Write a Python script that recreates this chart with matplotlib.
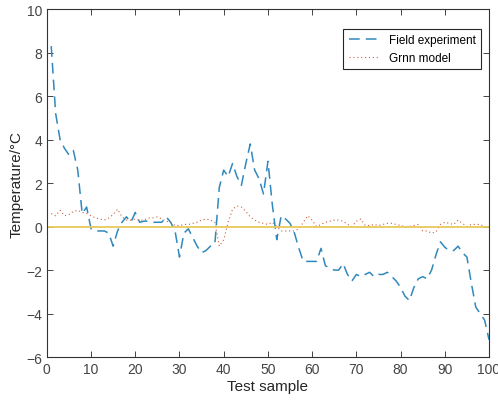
import numpy as np
import matplotlib
matplotlib.use("Agg")
import matplotlib.pyplot as plt

plt.rcParams['font.family'] = ['Liberation Sans', 'DejaVu Sans']

sample = list(range(1, 101))

field = [8.3, 5.2, 4.0, 3.6, 3.3, 3.5, 2.6, 0.6, 0.9, -0.1,
         -0.2, -0.2, -0.2, -0.3, -0.9, -0.2, 0.2, 0.45, 0.2, 0.65,
         0.2, 0.25, 0.25, 0.2, 0.2, 0.2, 0.45, 0.2, -0.2, -1.4,
         -0.3, -0.1, -0.5, -0.9, -1.2, -1.1, -0.9, -0.8, 1.8, 2.6,
         2.3, 2.9, 2.3, 1.9, 2.9, 3.8, 2.6, 2.2, 1.5, 3.0,
         1.0, -0.6, 0.5, 0.35, 0.15, -0.3, -1.0, -1.6, -1.6, -1.6,
         -1.6, -1.0, -1.8, -1.9, -2.0, -2.0, -1.7, -2.2, -2.5, -2.2,
         -2.3, -2.2, -2.1, -2.3, -2.2, -2.2, -2.1, -2.3, -2.5, -2.8,
         -3.2, -3.4, -2.8, -2.4, -2.3, -2.4, -2.0, -1.3, -0.7, -0.95,
         -1.1, -1.1, -0.9, -1.2, -1.4, -2.6, -3.7, -4.0, -4.3, -5.2]

grnn = [0.6, 0.5, 0.75, 0.5, 0.55, 0.7, 0.75, 0.65, 0.6, 0.5,
        0.4, 0.35, 0.3, 0.4, 0.55, 0.8, 0.45, 0.3, 0.3, 0.35,
        0.3, 0.3, 0.4, 0.4, 0.45, 0.35, 0.25, 0.2, 0.05, 0.05,
        0.1, 0.1, 0.15, 0.2, 0.3, 0.35, 0.3, 0.2, -0.9, -0.6,
        0.2, 0.8, 0.95, 0.9, 0.7, 0.45, 0.3, 0.2, 0.15, 0.1,
        0.2, 0.0, -0.2, -0.2, -0.2, -0.2, -0.1, 0.2, 0.5, 0.3,
        0.0, 0.1, 0.2, 0.25, 0.3, 0.3, 0.25, 0.1, 0.0, 0.25,
        0.35, 0.05, 0.05, 0.1, 0.05, 0.1, 0.15, 0.15, 0.1, 0.05,
        0.0, 0.0, 0.05, 0.1, -0.2, -0.2, -0.3, -0.25, 0.1, 0.2,
        0.15, 0.1, 0.3, 0.15, 0.0, 0.1, 0.1, 0.1, 0.0, 0.0]

fig = plt.figure(figsize=(4.98, 4.06), dpi=100)
ax = fig.add_axes([0.094, 0.118, 0.888, 0.857])

ax.plot(sample, field, ls=(0, (7, 4)), color='#3088bd', lw=1.1, label='Field experiment')
ax.plot(sample, grnn, ls=(0, (1, 2.5)), color='#c8603a', lw=0.8, label='Grnn model')
ax.plot([0, 100], [0, 0], color='#e8c95a', lw=1.3)

ax.set_xlim(0, 100)
ax.set_ylim(-6, 10)
ax.set_xticks(range(0, 101, 10))
ax.set_yticks(range(-6, 11, 2))
ax.tick_params(direction='in', top=True, right=True, length=4, width=0.7,
               labelsize=10, colors='#444444')
for s in ax.spines.values():
    s.set_color('#333333')
    s.set_linewidth(0.8)

ax.set_xlabel('Test sample', fontsize=11, color='#262626', labelpad=2)
ax.set_ylabel('Temperature/°C', fontsize=11, color='#262626', labelpad=2)

leg = ax.legend(loc='upper right', fontsize=8.5, fancybox=False, framealpha=1,
                edgecolor='#262626', handlelength=2.6, borderpad=0.45,
                bbox_to_anchor=(0.995, 0.96))
leg.get_frame().set_linewidth(0.8)

fig.savefig('out.png', dpi=100)
